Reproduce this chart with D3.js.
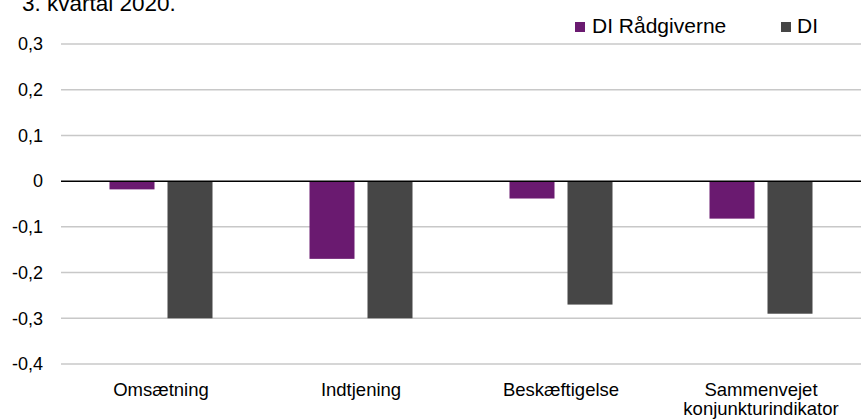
<!DOCTYPE html>
<html><head><meta charset="utf-8">
<script src="https://cdn.jsdelivr.net/npm/d3@7"></script>
<style>body{margin:0;background:#fff}svg{display:block}text{font-family:"Liberation Sans",Arial,sans-serif;fill:#000}</style>
</head><body><svg id="c" width="861" height="420"></svg>
<script>
const categories = ["Omsætning","Indtjening","Beskæftigelse","Sammenvejet\nkonjunkturindikator"];
const seriesNames = ["DI Rådgiverne","DI"];
const raadgiverne = [-0.018,-0.17,-0.038,-0.082];
const di = [-0.30,-0.30,-0.27,-0.29];
const yTicks = [0.3,0.2,0.1,0,-0.1,-0.2,-0.3,-0.4];
const colors = ["#6a1a70","#464646"];

const svg = d3.select("#c");
const x = d3.scaleBand().domain(categories).range([61,861]);
const xs = d3.scaleBand().domain(seriesNames).range([0,103]).paddingInner(13/58);
const y = d3.scaleLinear().domain([-0.4,0.3]).range([364,44]);

svg.append("text").attr("x",22).attr("y",11).attr("font-size",22.5).text("3. kvartal 2020.");

// gridlines
svg.append("g").selectAll("line").data(yTicks.filter(d=>d!==0)).join("line")
  .attr("x1",61).attr("x2",861).attr("y1",d=>y(d)).attr("y2",d=>y(d))
  .attr("stroke","#c8c8c8").attr("stroke-width",1.5);

// y labels
const fmt = d => d===0 ? "0" : d3.format(".1f")(d).replace(".",",").replace("−","-");
svg.append("g").selectAll("text").data(yTicks).join("text")
  .attr("x",43).attr("y",d=>y(d)).attr("dy","0.35em").attr("text-anchor","end")
  .attr("font-size",18).text(fmt);

// bars
const data = [raadgiverne, di];
categories.forEach((c,i)=>{
  seriesNames.forEach((s,j)=>{
    const v = data[j][i];
    const gx = x(c) + (x.bandwidth()-103)/2;
    svg.append("rect").attr("x",gx+xs(s)).attr("width",xs.bandwidth())
      .attr("y",y(Math.max(0,v))).attr("height",Math.abs(y(v)-y(0)))
      .attr("fill",colors[j]);
  });
});

// zero line
svg.append("line").attr("x1",61).attr("x2",861).attr("y1",y(0)).attr("y2",y(0))
  .attr("stroke","#000").attr("stroke-width",1.5);

// x labels
const xl = svg.append("g");
categories.forEach(c=>{
  const lines = c.split("\n");
  const cx = x(c)+x.bandwidth()/2;
  const t = xl.append("text").attr("text-anchor","middle").attr("font-size",18.5)
    .attr("x",cx).attr("y",396);
  lines.forEach((l,k)=>t.append("tspan").attr("x",cx).attr("dy",k?19:0).text(l));
});

// legend
const leg = [{n:seriesNames[0],x:575,tx:592},{n:seriesNames[1],x:781,tx:797}];
leg.forEach((l,j)=>{
  svg.append("rect").attr("x",l.x).attr("y",22).attr("width",10).attr("height",10).attr("fill",colors[j]);
  svg.append("text").attr("x",l.tx).attr("y",33).attr("font-size",21).text(l.n);
});
</script></body></html>
